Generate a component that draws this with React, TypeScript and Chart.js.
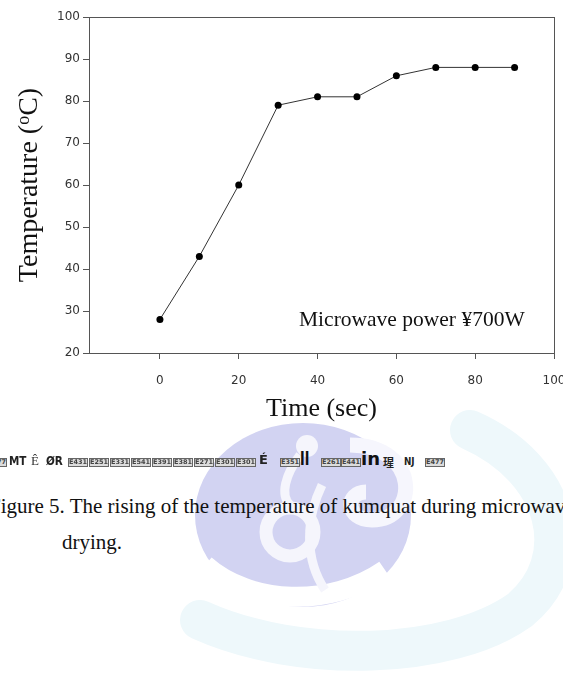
import React, { useEffect, useRef } from "react";
import { Chart, registerables } from "chart.js";

Chart.register(...registerables);

// ---- data ----
const timeSec = [0, 10, 20, 30, 40, 50, 60, 70, 80, 90];
const temperatureC = [28, 43, 60, 79, 81, 81, 86, 88, 88, 88];
const xTickValues = [0, 20, 40, 60, 80, 100];
const yTickValues = [20, 30, 40, 50, 60, 70, 80, 90, 100];
const xMin = -18;
const xMax = 100;
const yMin = 20;
const yMax = 100;

const xTitle = "Time (sec)";
const yTitleMain = "Temperature (";
const yTitleSup = "o";
const yTitleEnd = "C)";
const annotationText = "Microwave power ¥700W";
const captionLine1 = "Figure 5. The rising of the temperature of kumquat during microwave";
const captionLine2 = "drying.";
const garbledBoxes1 = ["E431", "E251", "E331", "E541", "E391", "E381", "E271", "E301", "E301"];
const garbledBoxes2 = ["E261", "E441"];

const serif = "'Liberation Serif', 'Times New Roman', serif";
const sans = "'DejaVu Sans', sans-serif";

const framePlugin = {
  id: "frame",
  afterDraw(chart: any) {
    const { ctx, chartArea: a } = chart;
    ctx.save();
    ctx.strokeStyle = "#555";
    ctx.lineWidth = 1;
    const l = Math.round(a.left) + 0.5;
    const t = Math.round(a.top) + 0.5;
    const r = Math.round(a.right) + 0.5;
    const b = Math.round(a.bottom) + 0.5;
    ctx.strokeRect(l, t, r - l, b - t);
    ctx.restore();
  },
};

const Box = ({ text, left }: { text: string; left: number }) => (
  <span
    style={{
      position: "absolute",
      left,
      top: 458,
      width: 20,
      height: 9,
      boxSizing: "border-box",
      border: "1px solid #666",
      background: "#dcdcdc",
      color: "#444",
      fontFamily: sans,
      fontSize: 6.5,
      fontWeight: "bold",
      lineHeight: "7px",
      textAlign: "center",
      overflow: "hidden",
      whiteSpace: "nowrap",
    }}
  >
    {text}
  </span>
);

export default function App() {
  const canvasRef = useRef<HTMLCanvasElement | null>(null);

  useEffect(() => {
    const canvas = canvasRef.current;
    if (!canvas) return;
    const chart = new Chart(canvas, {
      type: "scatter",
      data: {
        datasets: [
          {
            data: timeSec.map((x, i) => ({ x, y: temperatureC[i] })),
            showLine: true,
            borderColor: "#333",
            borderWidth: 1,
            pointRadius: 3.5,
            pointBackgroundColor: "#000",
            pointBorderColor: "#000",
            pointBorderWidth: 0,
          },
        ],
      },
      options: {
        animation: false,
        responsive: false,
        devicePixelRatio: 1,
        layout: { padding: { top: 17, right: 9, left: 0, bottom: 0 } },
        plugins: { legend: { display: false }, tooltip: { enabled: false } },
        scales: {
          x: {
            type: "linear",
            min: xMin,
            max: xMax,
            afterBuildTicks: (s: any) => {
              s.ticks = xTickValues.map((v) => ({ value: v }));
            },
            afterFit: (s: any) => {
              s.height = 47;
              s.paddingLeft = 0;
              s.paddingRight = 0;
            },
            grid: { drawOnChartArea: false, drawTicks: true, tickLength: 6, color: "#555" },
            border: { color: "#555", width: 1 },
            ticks: {
              font: { family: "DejaVu Sans", size: 12 },
              color: "#333",
              padding: 15,
              maxRotation: 0,
              autoSkip: false,
            },
          },
          y: {
            type: "linear",
            min: yMin,
            max: yMax,
            afterBuildTicks: (s: any) => {
              s.ticks = yTickValues.map((v) => ({ value: v }));
            },
            afterFit: (s: any) => {
              s.width = 89;
              s.paddingTop = 0;
              s.paddingBottom = 0;
            },
            grid: { drawOnChartArea: false, drawTicks: true, tickLength: 6, color: "#555" },
            border: { color: "#555", width: 1 },
            ticks: {
              font: { family: "DejaVu Sans", size: 12 },
              color: "#333",
              padding: 3,
              autoSkip: false,
            },
          },
        },
      },
      plugins: [framePlugin],
    } as any);
    return () => chart.destroy();
  }, []);

  return (
    <div
      style={{
        position: "absolute",
        left: 0,
        top: 0,
        width: 563,
        height: 677,
        overflow: "hidden",
        background: "#fff",
      }}
    >
      {/* faint watermark */}
      <svg width={563} height={677} style={{ position: "absolute", left: 0, top: 0 }}>
        <path
          d="M 470 430 C 560 470, 580 560, 520 610 C 450 660, 300 665, 200 620"
          fill="none"
          stroke="#eef8fb"
          strokeWidth={40}
          strokeLinecap="round"
        />
        <ellipse cx={303} cy={515} rx={108} ry={92} fill="#d2d3f2" />
        <circle cx={307} cy={446} r={11} fill="#f5f5fc" />
        <path d="M 300 455 C 285 475, 280 495, 290 505" fill="none" stroke="#f5f5fc" strokeWidth={9} />
        <path d="M 350 445 C 420 445, 420 520, 372 520 C 345 520, 345 492, 366 492" fill="none" stroke="#f6f6fd" strokeWidth={15} />
        <circle cx={290} cy={532} r={24} fill="none" stroke="#f5f5fc" strokeWidth={13} />
        <path d="M 205 565 C 250 605, 330 608, 385 570" fill="none" stroke="#ffffff" strokeWidth={20} />
        <path d="M 322 485 C 305 520, 305 560, 325 590" fill="none" stroke="#f5f5fc" strokeWidth={9} />
      </svg>

      <canvas
        ref={canvasRef}
        width={563}
        height={400}
        style={{ position: "absolute", left: 0, top: 0, width: 563, height: 400 }}
      />

      {/* y title */}
      <div
        style={{
          position: "absolute",
          left: 28,
          top: 185,
          transform: "translate(-50%, -50%) rotate(-90deg)",
          whiteSpace: "nowrap",
          fontFamily: serif,
          fontSize: 28,
          lineHeight: "28px",
          color: "#111",
        }}
      >
        {yTitleMain}
        <sup style={{ fontSize: 18, verticalAlign: "top", lineHeight: "18px" }}>{yTitleSup}</sup>
        {yTitleEnd}
      </div>

      {/* x title */}
      <div
        style={{
          position: "absolute",
          left: 89,
          width: 465,
          top: 395,
          textAlign: "center",
          whiteSpace: "nowrap",
          fontFamily: serif,
          fontSize: 26,
          lineHeight: "26px",
          color: "#111",
        }}
      >
        {xTitle}
      </div>

      {/* annotation */}
      <div
        style={{
          position: "absolute",
          left: 299,
          top: 309,
          whiteSpace: "nowrap",
          fontFamily: serif,
          fontSize: 21.5,
          lineHeight: "21.5px",
          color: "#111",
        }}
      >
        {annotationText}
      </div>

      {/* garbled line */}
      <Box text="E477" left={-13} />
      <span style={{ position: "absolute", left: 9, top: 454, fontFamily: sans, fontWeight: "bold", fontSize: 13, lineHeight: "14px", color: "#222", transform: "scaleX(0.8)", transformOrigin: "left" }}>MT</span>
      <span style={{ position: "absolute", left: 31, top: 454, fontFamily: serif, fontSize: 13, lineHeight: "14px", color: "#333" }}>Ê</span>
      <span style={{ position: "absolute", left: 46, top: 454, fontFamily: sans, fontWeight: "bold", fontSize: 13, lineHeight: "14px", color: "#222", transform: "scaleX(0.8)", transformOrigin: "left" }}>ØR</span>
      {garbledBoxes1.map((t, i) => (
        <Box key={i} text={t} left={68 + i * 21} />
      ))}
      <span style={{ position: "absolute", left: 259, top: 453, fontFamily: sans, fontWeight: "bold", fontSize: 13, lineHeight: "14px", color: "#222" }}>É</span>
      <Box text="E351" left={280} />
      <span style={{ position: "absolute", left: 300, top: 450, fontFamily: sans, fontWeight: "bold", fontSize: 17, lineHeight: "18px", color: "#111", transform: "scaleX(0.8)", transformOrigin: "left" }}>ll</span>
      {garbledBoxes2.map((t, i) => (
        <Box key={"b" + i} text={t} left={321 + i * 20} />
      ))}
      <span style={{ position: "absolute", left: 361, top: 450, fontFamily: sans, fontWeight: "bold", fontSize: 18, lineHeight: "18px", color: "#111" }}>in</span>
      <span style={{ position: "absolute", left: 383, top: 456, fontFamily: "'Noto Sans CJK SC', sans-serif", fontWeight: "bold", fontSize: 11, lineHeight: "12px", color: "#222" }}>瑆</span>
      <span style={{ position: "absolute", left: 404, top: 456, fontFamily: sans, fontWeight: "bold", fontSize: 11, lineHeight: "12px", color: "#222", transform: "scaleX(0.8)", transformOrigin: "left" }}>NJ</span>
      <Box text="E477" left={425} />

      {/* caption */}
      <div
        style={{
          position: "absolute",
          left: -11,
          top: 496,
          whiteSpace: "nowrap",
          fontFamily: serif,
          fontSize: 21,
          lineHeight: "21px",
          color: "#111",
        }}
      >
        {captionLine1}
      </div>
      <div
        style={{
          position: "absolute",
          left: 62,
          top: 532,
          whiteSpace: "nowrap",
          fontFamily: serif,
          fontSize: 21,
          lineHeight: "21px",
          color: "#111",
        }}
      >
        {captionLine2}
      </div>
    </div>
  );
}
